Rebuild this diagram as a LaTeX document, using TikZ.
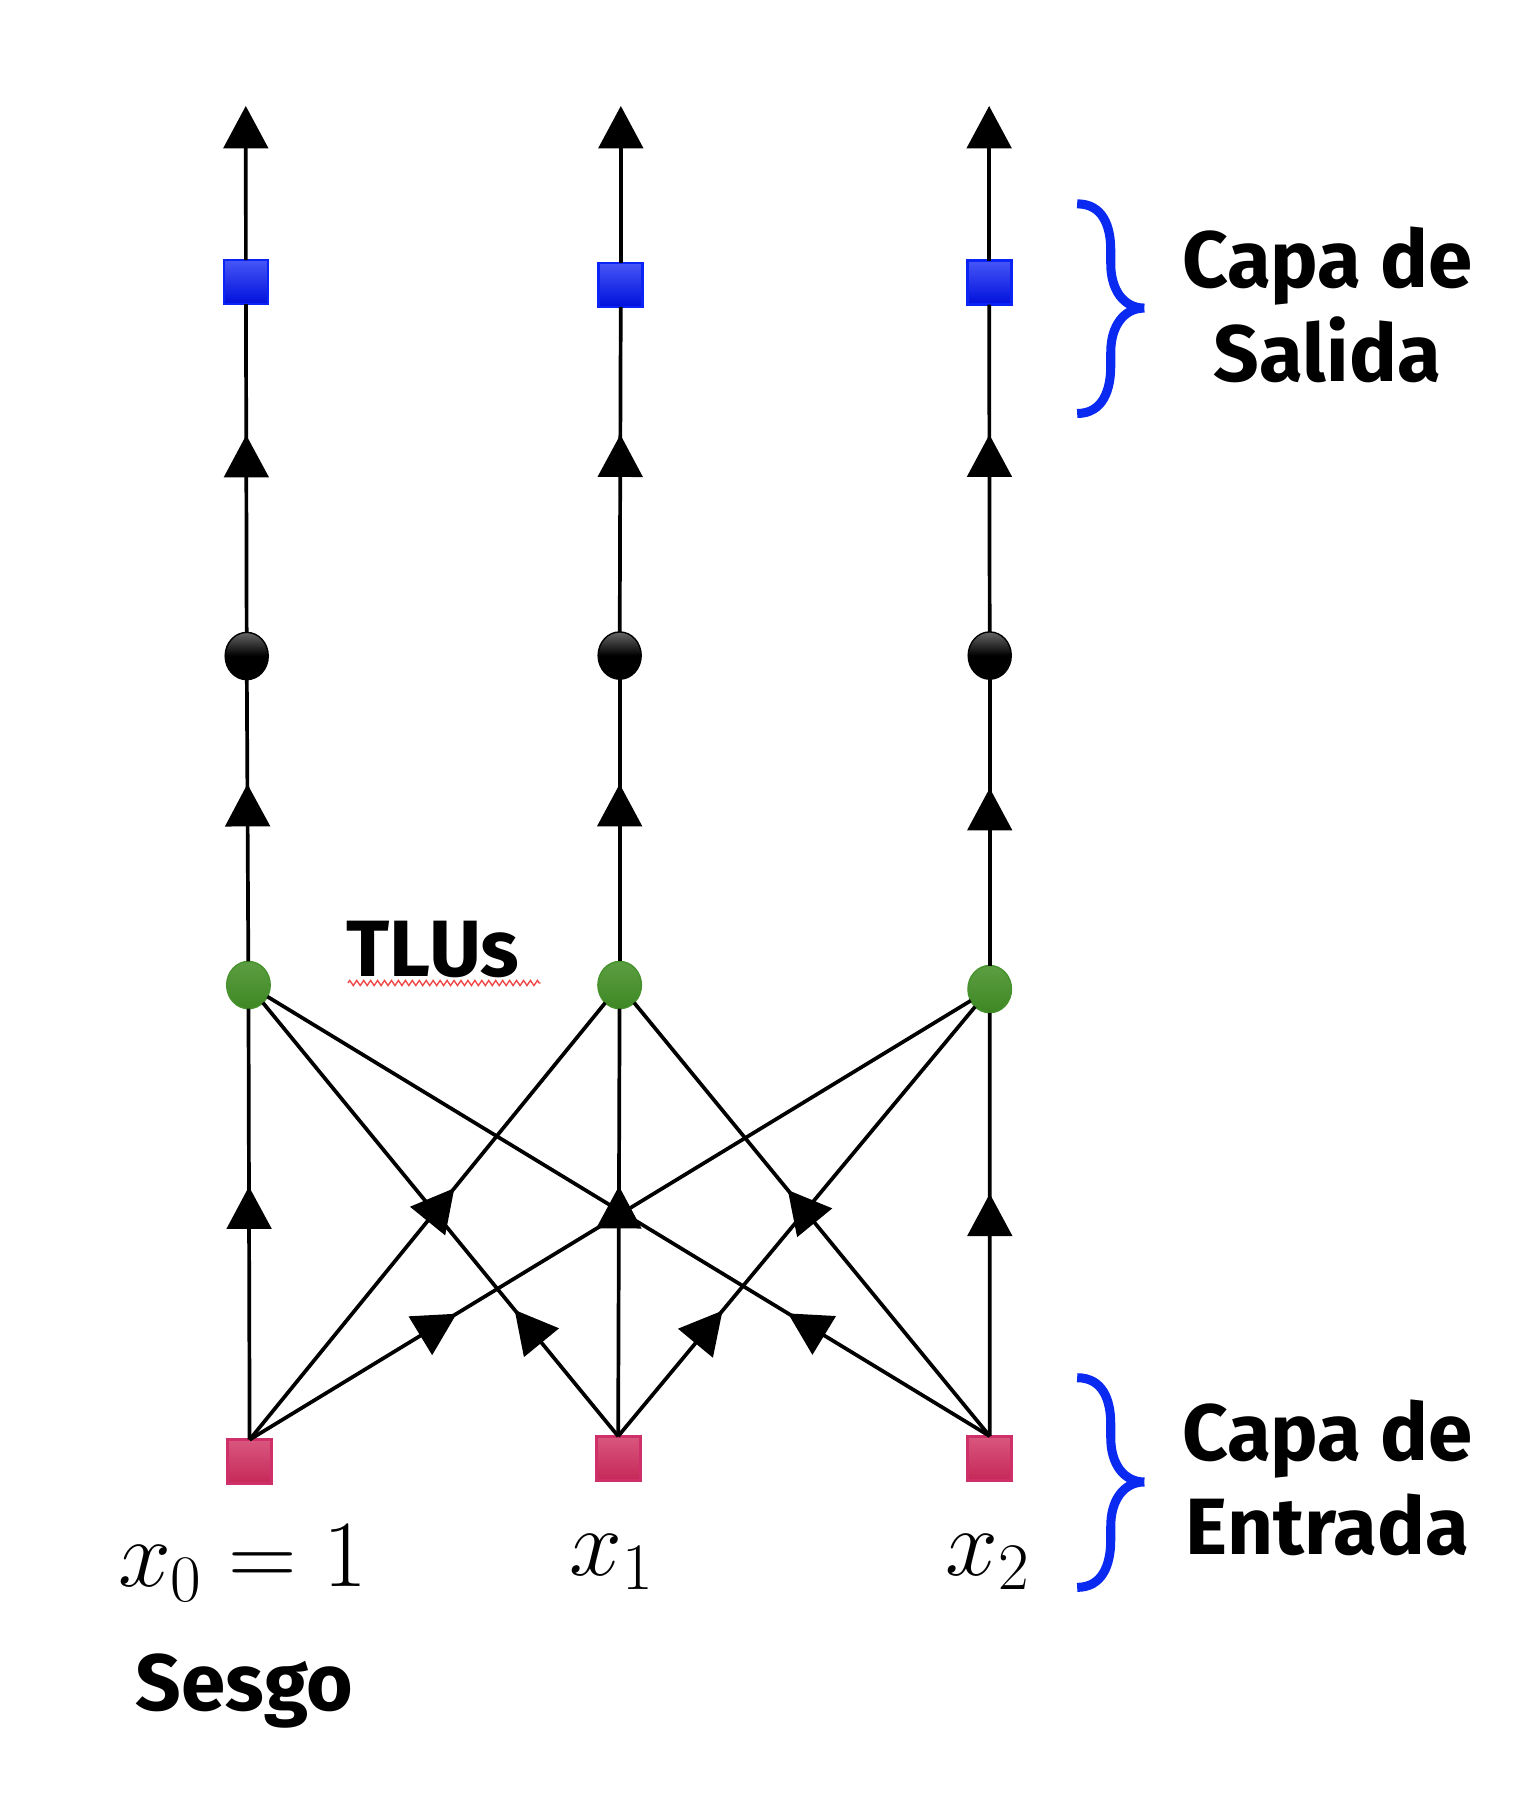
\RequirePackage{fix-cm}
\documentclass[tikz,border=0pt]{standalone}
\usepackage{fontspec}
\newfontfamily\labfont{Fira Sans}
\usetikzlibrary{arrows.meta,decorations.markings,decorations.pathmorphing,shapes.geometric}
\definecolor{sqblueB}{HTML}{0A24F5}
\definecolor{sqblueT}{HTML}{4656F6}
\definecolor{sqblueD}{HTML}{0010DC}
\definecolor{sqredB}{HTML}{D0306A}
\definecolor{sqredT}{HTML}{D9577F}
\definecolor{sqredD}{HTML}{C62858}
\definecolor{tluB}{HTML}{46922C}
\definecolor{tluT}{HTML}{5C9E42}
\definecolor{tluD}{HTML}{3E8724}
\definecolor{braceblue}{HTML}{0A2AF2}
\definecolor{wavyred}{HTML}{F04848}
\tikzset{
  tri/.tip={Triangle[length=18.3pt,width=19.2pt]},
  conn/.style={draw=black, line width=1.6pt},
  mk/.style={postaction={decorate}, decoration={markings, mark=at position #1 with {\arrow{tri}}}},
  outsq/.style={rectangle, draw=sqblueB, line width=1.2pt, top color=sqblueT, bottom color=sqblueD, minimum size=19pt, inner sep=0pt, outer sep=0pt},
  insq/.style={rectangle, draw=sqredB, line width=1.2pt, top color=sqredT, bottom color=sqredD, minimum size=19pt, inner sep=0pt, outer sep=0pt},
  hid/.style={ellipse, draw=black, line width=0.6pt, top color=black!60, bottom color=black, middle color=black, minimum width=18.6pt, minimum height=20.4pt, inner sep=0pt, outer sep=0pt},
  tlu/.style={ellipse, draw=tluB, line width=0.6pt, top color=tluT, bottom color=tluD, minimum width=18.8pt, minimum height=20.4pt, inner sep=0pt, outer sep=0pt},
  lab/.style={font=\labfont\bfseries\fontsize{34.5}{41}\selectfont, inner sep=0pt},
  mth/.style={font=\fontsize{41}{48}\selectfont, inner sep=0pt},
  brc/.style={draw=braceblue, line width=3.9pt, line cap=butt},
  wavy/.style={draw=wavyred, line width=0.6pt, decorate, decoration={zigzag, segment length=3pt, amplitude=1.1pt}}
}
\begin{document}
\begin{tikzpicture}[x=0.5pt,y=-0.5pt]
\useasboundingbox (0,0) rectangle (1316,1561);
% output layer
\node[outsq] (o0) at (212.3,243.5) {};
\node[outsq] (o1) at (536,246) {};
\node[outsq] (o2) at (854,244) {};
% hidden (black)
\node[hid] (h0) at (213,566.4) {};
\node[hid] (h1) at (535,566) {};
\node[hid] (h2) at (854.5,566) {};
% TLUs (green)
\node[tlu] (g0) at (214.5,850.5) {};
\node[tlu] (g1) at (535,850.5) {};
\node[tlu] (g2) at (854.5,854) {};
% input layer
\node[insq] (i0) at (215.5,1262) {};
\node[insq] (i1) at (533.7,1259) {};
\node[insq] (i2) at (854.6,1259) {};
% top ends
\coordinate (t0) at (212.2,91.5);
\coordinate (t1) at (536,91.5);
\coordinate (t2) at (854,91.5);
% outputs
\draw[conn,-{tri}] (o0) -- (t0);
\draw[conn,-{tri}] (o1) -- (t1);
\draw[conn,-{tri}] (o2) -- (t2);
\draw[conn,mk=85.2pt] (h0) -- (o0);
\draw[conn,mk=85.2pt] (h1) -- (o1);
\draw[conn,mk=85.2pt] (h2) -- (o2);
\draw[conn,mk=76.6pt] (g0) -- (h0);
\draw[conn,mk=76.6pt] (g1) -- (h1);
\draw[conn,mk=76.6pt] (g2) -- (h2);
% input to TLU
\draw[conn,mk=109.3pt] (i0.north) -- (g0);
\draw[conn,mk=108pt] (i1.north) -- (g1);
\draw[conn,mk=104.7pt] (i2.north) -- (g2);
\draw[conn,mk=140pt] (i0.north) -- (g1);
\draw[conn,mk=104.6pt] (i0.north) -- (g2);
\draw[conn,mk=70.5pt] (i1.north) -- (g0);
\draw[conn,mk=70.5pt] (i1.north) -- (g2);
\draw[conn,mk=102pt] (i2.north) -- (g0);
\draw[conn,mk=137.5pt] (i2.north) -- (g1);
% labels
\node[lab,anchor=base west] (tlus) at (299,843.5) {TLUs};
\draw[wavy] (300.5,848.7) -- (466.8,848.7);
\node[lab,anchor=base] (capa1) at (1146,248.4) {Capa de};
\node[lab,anchor=base] (salida) at (1146,329.4) {Salida};
\node[lab,anchor=base] (capa2) at (1146,1260.8) {Capa de};
\node[lab,anchor=base] (entrada) at (1146,1342) {Entrada};
\node[lab,anchor=base] (sesgo) at (211,1476.7) {Sesgo};
\node[mth,anchor=base] (l0) at (209.5,1370) {$x_0=1$};
\node[mth,anchor=base] (l1) at (528.3,1360) {$x_1$};
\node[mth,anchor=base] (l2) at (853,1360) {$x_2$};
% braces
\draw[brc] (930,176) .. controls (952,176) and (959,195) .. (959,216) -- (959,228) .. controls (959,250) and (970,266) .. (988,266)
  (988,266) .. controls (970,266) and (959,282) .. (959,304) -- (959,316) .. controls (959,337) and (952,357) .. (930,357);
\draw[brc,shift={(0,1013.5)}] (930,176) .. controls (952,176) and (959,195) .. (959,216) -- (959,228) .. controls (959,250) and (970,266) .. (988,266)
  (988,266) .. controls (970,266) and (959,282) .. (959,304) -- (959,316) .. controls (959,337) and (952,357) .. (930,357);
\end{tikzpicture}
\end{document}
